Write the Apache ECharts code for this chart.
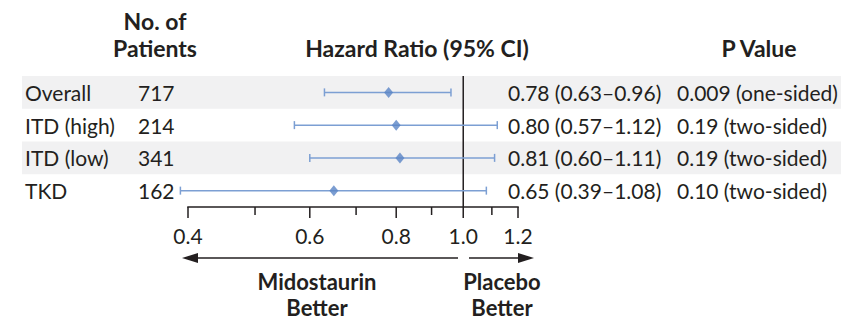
<!DOCTYPE html>
<html><head><meta charset="utf-8">
<script src="https://cdn.jsdelivr.net/npm/echarts@6/dist/echarts.min.js"></script>
<style>html,body{margin:0;padding:0;background:#fff}#c{width:859px;height:320px}</style>
</head><body><div id="c"></div>
<script>
const categories = ['Overall', 'ITD (high)', 'ITD (low)', 'TKD'];
const patients = [717, 214, 341, 162];
const hr = [0.78, 0.80, 0.81, 0.65];
const ciLow = [0.63, 0.57, 0.60, 0.39];
const ciHigh = [0.96, 1.12, 1.11, 1.08];
const pValues = ['0.009 (one-sided)', '0.19 (two-sided)', '0.19 (two-sided)', '0.10 (two-sided)'];
const shadedRows = [0, 2];
const majorTicks = [0.4, 0.6, 0.8, 1.0, 1.2];
const tickLabels = ['0.4', '0.6', '0.8', '1.0', '1.2'];
const minorTicks = [0.5, 0.7, 0.9, 1.1];
const axisMin = 0.4, axisMax = 1.2, refValue = 1.0;

const FONT = 'Lato';
const TXT = '#231f20';
const FS = 21;
const BOLD = 'bold 22px ' + FONT;
const HEAD = 'bold 23px ' + FONT;
const estText = hr.map((v, i) => v.toFixed(2) + ' (' + ciLow[i].toFixed(2) + '\u2013' + ciHigh[i].toFixed(2) + ')');

const chart = echarts.init(document.getElementById('c'), null, {renderer: 'svg'});
const catAxis = (extra) => Object.assign({
  type: 'category', data: categories, inverse: true,
  axisLine: {show: false}, axisTick: {show: false}, splitLine: {show: false}
}, extra);
const lbl = (extra) => Object.assign({fontFamily: FONT, fontSize: FS, color: TXT, align: 'left'}, extra);
const txt = (text, x, y, font) => ({type: 'text', style: {text, x, y, align: 'center', verticalAlign: 'middle', font: font || BOLD, fill: TXT}});

chart.setOption({
  animation: false,
  grid: {left: 188, top: 76, width: 330, height: 131},
  xAxis: {type: 'log', logBase: 10, min: axisMin, max: axisMax, show: false},
  yAxis: [
    catAxis({position: 'left', axisLabel: lbl({margin: 163})}),
    catAxis({position: 'left', axisLabel: lbl({margin: 50, formatter: (v, i) => String(patients[i])})}),
    catAxis({position: 'right', offset: -10, axisLabel: lbl({margin: 0, formatter: (v, i) => estText[i]})}),
    catAxis({position: 'right', axisLabel: lbl({margin: 159, formatter: (v, i) => pValues[i]})})
  ],
  series: [
    { // row shading
      type: 'custom', clip: false, z: 0,
      data: shadedRows.map(r => [1, r]),
      renderItem: (params, api) => {
        const c = api.coord([1, api.value(1)]);
        const h = api.size([0, 1])[1];
        return {type: 'rect', shape: {x: 22, y: c[1] - h / 2, width: 819, height: h}, style: {fill: '#f1f1f2'}};
      }
    },
    { // axis line + ticks + labels
      type: 'custom', clip: false, z: 3,
      data: majorTicks.map((t, i) => [t, 1, i]).concat(minorTicks.map(t => [t, 0, -1])),
      renderItem: (params, api) => {
        const v = api.value(0), major = api.value(1) === 1, idx = api.value(2);
        const cs = params.coordSys;
        const yb = cs.y + cs.height;
        const x = api.coord([v, 0])[0];
        const children = [{type: 'line', shape: {x1: x, y1: yb, x2: x, y2: yb + (major ? 11 : 8)}, style: {stroke: '#231f20', lineWidth: 1.5}}];
        if (major) children.push({type: 'text', style: {text: tickLabels[idx], x: x, y: yb + 28, align: 'center', verticalAlign: 'middle', font: FS + 'px ' + FONT, fill: TXT}});
        if (params.dataIndex === 0) {
          const x1 = api.coord([axisMax, 0])[0];
          children.push({type: 'line', shape: {x1: x - 0.75, y1: yb, x2: x1 + 0.75, y2: yb}, style: {stroke: '#231f20', lineWidth: 1.5}});
        }
        return {type: 'group', children};
      }
    },
    { // reference line at 1.0
      type: 'custom', clip: false, z: 2,
      data: [[refValue, 0]],
      renderItem: (params, api) => {
        const cs = params.coordSys;
        const x = api.coord([api.value(0), 0])[0];
        return {type: 'line', shape: {x1: x, y1: cs.y, x2: x, y2: cs.y + cs.height}, style: {stroke: '#231f20', lineWidth: 1.5}};
      }
    },
    { // confidence intervals
      type: 'custom', clip: false, z: 4,
      data: categories.map((c, i) => [ciLow[i], ciHigh[i], i]),
      renderItem: (params, api) => {
        const p1 = api.coord([api.value(0), api.value(2)]);
        const p2 = api.coord([api.value(1), api.value(2)]);
        const st = {stroke: '#7c9fd3', lineWidth: 1.5};
        return {type: 'group', children: [
          {type: 'line', shape: {x1: p1[0], y1: p1[1], x2: p2[0], y2: p2[1]}, style: st},
          {type: 'line', shape: {x1: p1[0], y1: p1[1] - 4, x2: p1[0], y2: p1[1] + 4}, style: st},
          {type: 'line', shape: {x1: p2[0], y1: p2[1] - 4, x2: p2[0], y2: p2[1] + 4}, style: st}
        ]};
      }
    },
    {
      type: 'scatter', z: 5, symbol: 'diamond', symbolSize: [9, 11],
      itemStyle: {color: '#5a85c6'},
      data: hr.map((v, i) => [v, i])
    }
  ],
  graphic: [
    txt('No. of', 155, 21, HEAD),
    txt('Patients', 155, 48, HEAD),
    txt('Hazard Ratio (95% CI)', 417, 48, HEAD),
    txt('P Value', 759, 48, HEAD),
    {type: 'line', shape: {x1: 190, y1: 258, x2: 458, y2: 258}, style: {stroke: '#231f20', lineWidth: 1.5}},
    {type: 'polygon', shape: {points: [[182, 258], [198, 253], [198, 263]]}, style: {fill: '#231f20'}},
    {type: 'line', shape: {x1: 469, y1: 258, x2: 526, y2: 258}, style: {stroke: '#231f20', lineWidth: 1.5}},
    {type: 'polygon', shape: {points: [[534, 258], [518, 253], [518, 263]]}, style: {fill: '#231f20'}},
    txt('Midostaurin', 317, 281),
    txt('Better', 317, 307),
    txt('Placebo', 502, 281),
    txt('Better', 502, 307)
  ]
});
</script></body></html>
